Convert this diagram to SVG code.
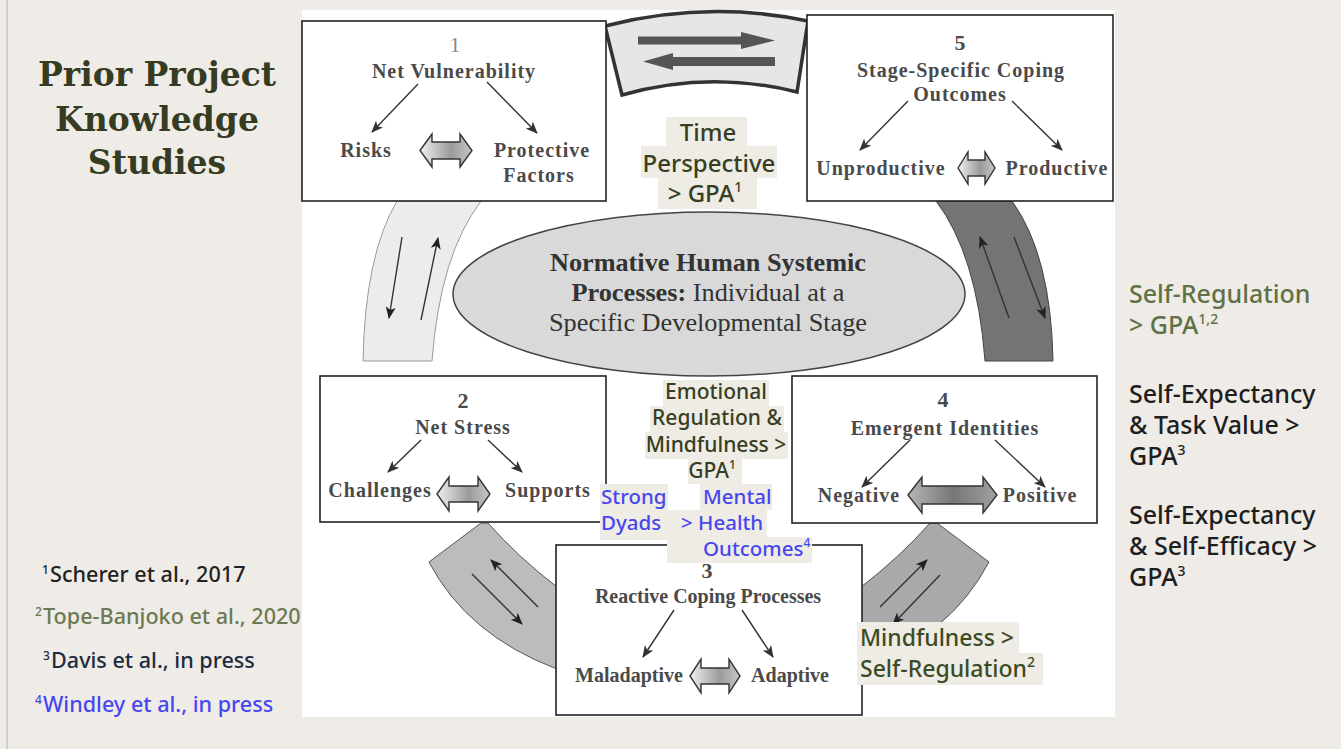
<svg xmlns="http://www.w3.org/2000/svg" width="1341" height="749" viewBox="0 0 1341 749">
<style>
.box{fill:#fff;stroke:#222;stroke-width:1.6}
.bt{font-family:"Liberation Serif","Times New Roman",serif;font-weight:bold;font-size:20px;fill:#4a4a4a;letter-spacing:1px;text-anchor:middle}
.num{font-family:"Liberation Serif","Times New Roman",serif;font-size:22px;fill:#4a4a4a;text-anchor:middle}
.et{font-family:"Liberation Serif","Times New Roman",serif;font-size:25px;fill:#333;text-anchor:middle}
.ar{stroke:#333;stroke-width:1.4;fill:none;marker-end:url(#ah)}
.dbl{fill:url(#g1);stroke:#333;stroke-width:1.4}
.lab{font-family:"Noto Sans","Open Sans",sans-serif;font-weight:500}
.hl{fill:#efebe5}
.olive{fill:#363f22}
.blue{fill:#4747ef}
.green{fill:#3c4b24}
.band-arrow{stroke:#333;stroke-width:1.4;fill:none;marker-end:url(#ah2)}
</style>
<defs>
<marker id="ah" viewBox="0 0 12 10" refX="11" refY="5" markerWidth="12" markerHeight="10" markerUnits="userSpaceOnUse" orient="auto">
<path d="M0,0 L12,5 L0,10 L3,5 Z" fill="#333"/>
</marker>
<marker id="ah2" viewBox="0 0 12 10" refX="11" refY="5" markerWidth="13" markerHeight="10" markerUnits="userSpaceOnUse" orient="auto">
<path d="M0,0 L12,5 L0,10 L3,5 Z" fill="#222"/>
</marker>
<linearGradient id="g1" x1="0" y1="0" x2="1" y2="0">
<stop offset="0" stop-color="#f0f0f0"/><stop offset="0.6" stop-color="#9a9a9a"/><stop offset="1" stop-color="#c8c8c8"/>
</linearGradient>
<linearGradient id="g2" x1="0" y1="0" x2="1" y2="0">
<stop offset="0" stop-color="#b5b5b5"/><stop offset="0.5" stop-color="#777"/><stop offset="1" stop-color="#a0a0a0"/>
</linearGradient>
</defs>

<rect x="0" y="0" width="1341" height="749" fill="#efebe6"/>
<line x1="7" y1="0" x2="7" y2="749" stroke="#cdcecf" stroke-width="2"/>
<rect x="302" y="10" width="813" height="707" fill="#fff"/>

<g id="title">
<text font-family="'DejaVu Serif','Liberation Serif',serif" font-weight="bold" font-size="33" fill="#363c22" text-anchor="middle">
<tspan x="157" y="86">Prior Project</tspan><tspan x="157" y="131">Knowledge</tspan><tspan x="157" y="174">Studies</tspan>
</text>
</g>

<g id="connectors">
<path d="M605 26 Q707 0 808 21 L797 92 Q709 70 622 95 Z" fill="#e6e6e6" stroke="#333" stroke-width="3.5"/>
<path d="M638 36.5 L741 36.5 L741 32 L775 40.5 L741 49 L741 44.5 L638 44.5 Z" fill="#555"/>
<path d="M775 57 L673 57 L673 53 L643 61.5 L673 70 L673 66 L775 66 Z" fill="#555"/>
<path d="M397 201 Q365 255 363 361 L432 361 Q440 255 481 201 Z" fill="#ececec" stroke="#9a9a9a" stroke-width="1"/>
<line class="band-arrow" x1="402" y1="237" x2="389" y2="318"/>
<line class="band-arrow" x1="421" y1="320" x2="438" y2="238"/>
<path d="M1012 201 Q1051 255 1053 361 L985 361 Q977 255 936 201 Z" fill="#747474" stroke="#444" stroke-width="1"/>
<line class="band-arrow" x1="1009" y1="318" x2="980" y2="237"/>
<line class="band-arrow" x1="1014" y1="237" x2="1045" y2="318"/>
<path d="M429 562 L481 523 L488 523 Q518 557 557 587 L557 669 Q467 635 429 562 Z" fill="#bcbcbc" stroke="#555" stroke-width="1"/>
<line class="band-arrow" x1="538" y1="607" x2="491" y2="560"/>
<line class="band-arrow" x1="472" y1="574" x2="522" y2="624"/>
<path d="M989 562 L937 523 L930 523 Q900 557 861 587 L861 669 Q951 635 989 562 Z" fill="#a9a9a9" stroke="#555" stroke-width="1"/>
<line class="band-arrow" x1="880" y1="607" x2="927" y2="560"/>
<line class="band-arrow" x1="940" y1="575" x2="893" y2="624"/>
</g>

<g id="node-center">
<ellipse cx="709" cy="294" rx="256" ry="82" fill="#d9d9d9" stroke="#444" stroke-width="1.5"/>
<text class="et" x="708" y="271" font-weight="bold" textLength="316" lengthAdjust="spacingAndGlyphs">Normative Human Systemic</text>
<text class="et" x="708" y="301" textLength="273" lengthAdjust="spacingAndGlyphs"><tspan font-weight="bold">Processes:</tspan> Individual at a</text>
<text class="et" x="708" y="331" textLength="318" lengthAdjust="spacingAndGlyphs">Specific Developmental Stage</text>
</g>

<g id="node-1">
<rect class="box" x="302" y="21" width="304" height="180"/>
<text class="num" x="455" y="52" style="fill:#8a8a8a">1</text>
<text class="bt" x="454" y="78">Net Vulnerability</text>
<line class="ar" x1="418" y1="84" x2="372" y2="132"/>
<line class="ar" x1="487" y1="82" x2="537" y2="133"/>
<text class="bt" x="366" y="157">Risks</text>
<path class="dbl" d="M420 150.5 L432 134 L432 142 L460 142 L460 134 L472 150.5 L460 167 L460 159 L432 159 L432 167 Z"/>
<text class="bt" x="542" y="157">Protective</text>
<text class="bt" x="539" y="182">Factors</text>
</g>

<g id="node-5">
<rect class="box" x="807" y="15" width="306" height="186"/>
<text class="num" x="960" y="50" font-weight="bold">5</text>
<text class="bt" x="961" y="77">Stage-Specific Coping</text>
<text class="bt" x="960" y="101">Outcomes</text>
<line class="ar" x1="908" y1="101" x2="860" y2="150"/>
<line class="ar" x1="1012" y1="101" x2="1062" y2="150"/>
<text class="bt" x="881" y="175">Unproductive</text>
<path class="dbl" d="M958 168 L968 152 L968 160 L985 160 L985 152 L995 168 L985 184 L985 176 L968 176 L968 184 Z"/>
<text class="bt" x="1057" y="175">Productive</text>
</g>

<g id="node-2">
<rect class="box" x="320" y="376" width="286" height="146"/>
<text class="num" x="463" y="408" font-weight="bold">2</text>
<text class="bt" x="463" y="434">Net Stress</text>
<line class="ar" x1="421" y1="440" x2="388" y2="472"/>
<line class="ar" x1="488" y1="440" x2="522" y2="472"/>
<text class="bt" x="380" y="497">Challenges</text>
<path class="dbl" d="M437 494 L449 477 L449 486 L478 486 L478 477 L490 494 L478 511 L478 502 L449 502 L449 511 Z"/>
<text class="bt" x="548" y="497">Supports</text>
</g>

<g id="node-4">
<rect class="box" x="792" y="376" width="305" height="147"/>
<text class="num" x="943" y="407" font-weight="bold">4</text>
<text class="bt" x="945" y="435">Emergent Identities</text>
<line class="ar" x1="910" y1="440" x2="862" y2="487"/>
<line class="ar" x1="995" y1="440" x2="1045" y2="487"/>
<text class="bt" x="859" y="502">Negative</text>
<path d="M908 495 L922 477 L922 486 L983 486 L983 477 L997 495 L983 513 L983 504 L922 504 L922 513 Z" fill="url(#g2)" stroke="#333" stroke-width="1.4"/>
<text class="bt" x="1040" y="502">Positive</text>
</g>

<g id="node-3">
<rect class="box" x="556" y="545" width="306" height="170"/>
<text class="num" x="707" y="578" font-weight="bold">3</text>
<text class="bt" x="708" y="603" style="letter-spacing:0">Reactive Coping Processes</text>
<line class="ar" x1="674" y1="610" x2="643" y2="657"/>
<line class="ar" x1="742" y1="610" x2="773" y2="657"/>
<text class="bt" x="629" y="682" style="letter-spacing:0">Maladaptive</text>
<path class="dbl" d="M690 676 L701 659 L701 668 L729 668 L729 659 L740 676 L729 693 L729 684 L701 684 L701 693 Z"/>
<text class="bt" x="790" y="682" style="letter-spacing:0">Adaptive</text>
</g>

<g id="label-time">
<rect class="hl" x="666" y="117" width="81" height="29"/>
<rect class="hl" x="641" y="146" width="136" height="32"/>
<rect class="hl" x="658" y="178" width="99" height="31"/>
<text class="lab olive" font-size="24" text-anchor="middle"><tspan x="708" y="141">Time</tspan><tspan x="709" y="172">Perspective</tspan><tspan x="705" y="202">&gt; GPA</tspan><tspan font-size="14" dy="-10">1</tspan></text>
</g>

<g id="label-emotional">
<rect class="hl" x="663" y="380" width="106" height="26"/>
<rect class="hl" x="650" y="406" width="134" height="26"/>
<rect class="hl" x="645" y="432" width="143" height="27"/>
<rect class="hl" x="688" y="459" width="54" height="25"/>
<text class="lab olive" font-size="21" text-anchor="middle"><tspan x="716" y="399">Emotional</tspan><tspan x="717" y="425">Regulation &amp;</tspan><tspan x="716" y="452">Mindfulness &gt;</tspan><tspan x="712" y="478">GPA</tspan><tspan font-size="12" dy="-9">1</tspan></text>
</g>

<g id="label-dyads">
<rect class="hl" x="600" y="484" width="68" height="56"/>
<text class="lab blue" font-size="20.5"><tspan x="601" y="504">Strong</tspan><tspan x="601" y="530">Dyads</tspan></text>
</g>

<g id="label-mental">
<rect class="hl" x="700" y="484" width="72" height="26"/>
<rect class="hl" x="667" y="510" width="100" height="27"/>
<rect class="hl" x="667" y="537" width="145" height="26"/>
<text class="lab blue" font-size="20.5"><tspan x="703" y="504">Mental</tspan><tspan x="681" y="530">&gt; Health</tspan><tspan x="703" y="556">Outcomes</tspan><tspan font-size="12" dy="-9">4</tspan></text>
</g>

<g id="label-mindfulness">
<rect class="hl" x="857" y="622" width="162" height="31"/>
<rect class="hl" x="857" y="653" width="186" height="32"/>
<text class="lab green" font-size="23"><tspan x="860" y="646">Mindfulness &gt;</tspan><tspan x="860" y="677">Self-Regulation</tspan><tspan font-size="14" dy="-10">2</tspan></text>
</g>

<g id="label-right">
<text class="lab" font-size="25" fill="#5f7147"><tspan x="1129" y="303">Self-Regulation</tspan><tspan x="1129" y="334">&gt; GPA</tspan><tspan font-size="14" dy="-10">1,2</tspan></text>
<text class="lab" font-size="25" fill="#1e1e1e"><tspan x="1129" y="403">Self-Expectancy</tspan><tspan x="1129" y="434">&amp; Task Value &gt;</tspan><tspan x="1129" y="465">GPA</tspan><tspan font-size="14" dy="-10">3</tspan></text>
<text class="lab" font-size="25" fill="#1e1e1e"><tspan x="1129" y="524">Self-Expectancy</tspan><tspan x="1129" y="555">&amp; Self-Efficacy &gt;</tspan><tspan x="1129" y="586">GPA</tspan><tspan font-size="14" dy="-10">3</tspan></text>
</g>

<g id="footnotes" class="lab" font-size="21.6">
<text fill="#222"><tspan x="42" y="574" font-size="12">1</tspan><tspan x="50" y="582">Scherer et al., 2017</tspan></text>
<text fill="#6b7a52"><tspan x="35" y="616" font-size="12">2</tspan><tspan x="43" y="624">Tope-Banjoko et al., 2020</tspan></text>
<text fill="#1d2b3f"><tspan x="43" y="660" font-size="12">3</tspan><tspan x="51" y="668">Davis et al., in press</tspan></text>
<text fill="#4747ef"><tspan x="35" y="704" font-size="12">4</tspan><tspan x="43" y="712">Windley et al., in press</tspan></text>
</g>
</svg>
